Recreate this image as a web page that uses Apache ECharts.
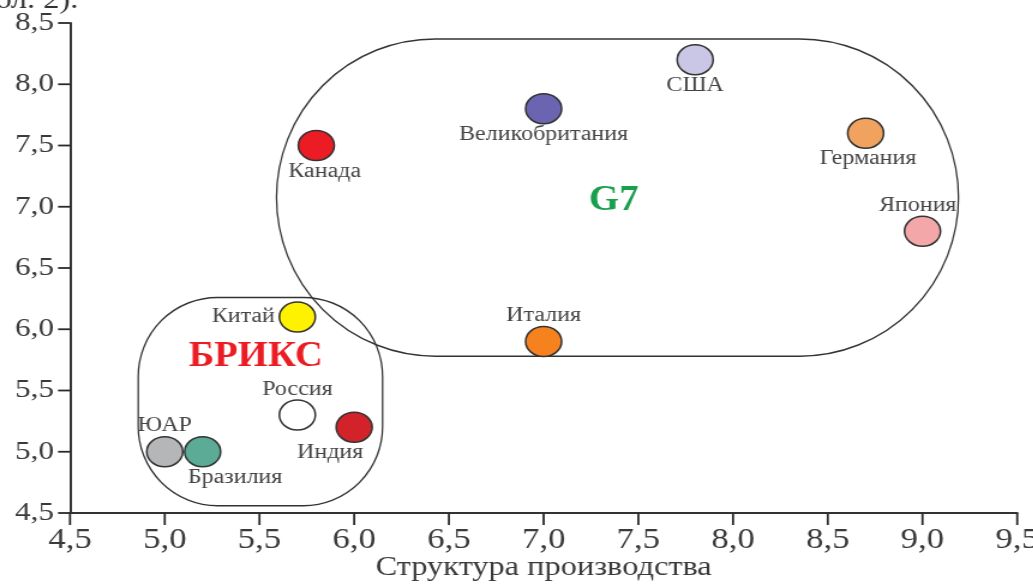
<!DOCTYPE html>
<html><head><meta charset="utf-8">
<script src="https://cdn.jsdelivr.net/npm/echarts@6/dist/echarts.min.js"></script>
<style>html,body{margin:0;padding:0;background:#fff;overflow:hidden}
#c{width:860.8px;height:584px;transform:scaleX(1.2);transform-origin:0 0}</style>
</head><body><div id="c"></div>
<script>
const countries = ['США','Великобритания','Канада','Германия','Япония','Италия','Китай','Россия','Индия','ЮАР','Бразилия'];
const xValues = [7.8, 7.0, 5.8, 8.7, 9.0, 7.0, 5.7, 5.7, 6.0, 5.0, 5.2];
const yValues = [8.2, 7.8, 7.5, 7.6, 6.8, 5.9, 6.1, 5.3, 5.2, 5.0, 5.0];
const colors = ['#c9c6e6','#6b64b0','#ec1c24','#f0a25e','#f4a7a8','#f5821f','#fff200','#ffffff','#d2232a','#b5b6b8','#5bab97'];
const labelPos = ['bottom','bottom','bottom','bottom','top','top','left','top','bottom','top','bottom'];
const labelDx = [0,0,7,2,-4,0,0,0,-20,0,27];
const xTicks = ['4,5','5,0','5,5','6,0','6,5','7,0','7,5','8,0','8,5','9,0','9,5'];
const yTicks = ['4,5','5,0','5,5','6,0','6,5','7,0','7,5','8,0','8,5'];
const groupNames = ['G7','БРИКС'];
const groupColors = ['#1a9f4f','#ec1c24'];
const groupLabelAt = [[7.37, 7.05],[5.48, 5.77]];
// bounds: [xmin, xmax, ymin, ymax] in data units
const groupBounds = [[5.59, 9.19, 5.78, 8.37],[4.86, 6.15, 4.56, 6.26]];
const groupRadiusFrac = [0.5, 0.38];

const SX = 1.2; // the picture is drawn 1.2x wider than tall
const serif = '"Liberation Serif","Times New Roman",serif';
const num = s => parseFloat(s.replace(',', '.'));
const fmt = v => v.toFixed(1).replace('.', ',');
const chart = echarts.init(document.getElementById('c'));
const data = countries.map((n,i)=>({
  name:n, value:[xValues[i], yValues[i]],
  itemStyle:{color:colors[i]},
  label:{position:labelPos[i], offset:[labelDx[i], labelPos[i]==='bottom'?-3:(labelPos[i]==='top'?3:0)]}
}));
chart.setOption({
  animation:false,
  grid:{left:70/SX,right:16/SX,top:23,bottom:71,outerBoundsMode:'none',containLabel:false},
  xAxis:{type:'value',min:num(xTicks[0]),max:num(xTicks[xTicks.length-1]),interval:0.5,
    name:'Структура производства',nameLocation:'middle',nameGap:41,nameMoveOverlap:false,
    nameTextStyle:{fontFamily:serif,fontSize:27,color:'#3a3a3a',verticalAlign:'top'},
    axisLine:{show:true,onZero:false,lineStyle:{color:'#333',width:2}},
    axisTick:{show:false},
    axisLabel:{show:true,fontFamily:serif,fontSize:29,color:'#3a3a3a',margin:13,formatter:(v)=>xTicks[Math.round((v-4.5)/0.5)]},
    splitLine:{show:false}},
  yAxis:{type:'value',min:num(yTicks[0]),max:num(yTicks[yTicks.length-1]),interval:0.5,
    axisLine:{show:true,onZero:false,lineStyle:{color:'#333',width:2}},
    axisTick:{show:false},
    axisLabel:{show:true,fontFamily:serif,fontSize:26,color:'#3a3a3a',margin:16/SX,formatter:fmt},
    splitLine:{show:false}},
  series:[{type:'scatter',z:5,symbol:'circle',symbolSize:[30,30],data:data,
    itemStyle:{borderColor:'#333',borderWidth:1.5,opacity:1},
    label:{show:true,formatter:'{b}',fontFamily:serif,fontSize:20,color:'#444',distance:3}}]
});
const g = [];
const y0 = num(yTicks[0]), x0 = num(xTicks[0]);
const tickStyle = {stroke:'#2a2a2a',lineWidth:1.8};
xTicks.forEach(s=>{
  const p = chart.convertToPixel({gridIndex:0},[num(s), y0]);
  g.push({type:'line',z:3,shape:{x1:p[0],y1:p[1],x2:p[0],y2:p[1]+12},style:tickStyle});
});
yTicks.forEach(s=>{
  const p = chart.convertToPixel({gridIndex:0},[x0, num(s)]);
  g.push({type:'line',z:3,shape:{x1:p[0]-12/SX,y1:p[1],x2:p[0],y2:p[1]},style:tickStyle});
});
groupBounds.forEach((b,i)=>{
  const p1 = chart.convertToPixel({gridIndex:0},[b[0],b[3]]);
  const p2 = chart.convertToPixel({gridIndex:0},[b[1],b[2]]);
  const w = (p2[0]-p1[0])*SX, h = p2[1]-p1[1];
  const r = Math.min(w,h)*groupRadiusFrac[i];
  g.push({type:'rect',z:1,x:0,y:0,scaleX:1/SX,
    shape:{x:p1[0]*SX,y:p1[1],width:w,height:h,r:r},
    style:{fill:'none',stroke:'#333',lineWidth:1.5}});
  const t = chart.convertToPixel({gridIndex:0},groupLabelAt[i]);
  g.push({type:'text',z:6,x:t[0],y:t[1],scaleX:0.92,style:{text:groupNames[i],fill:groupColors[i],
    font:'bold 35px '+serif,align:'center',verticalAlign:'middle'}});
});
g.push({type:'text',left:-4,top:-13,style:{text:'бл. 2).',fill:'#333',font:'27px '+serif}});
chart.setOption({graphic:g});
</script></body></html>
